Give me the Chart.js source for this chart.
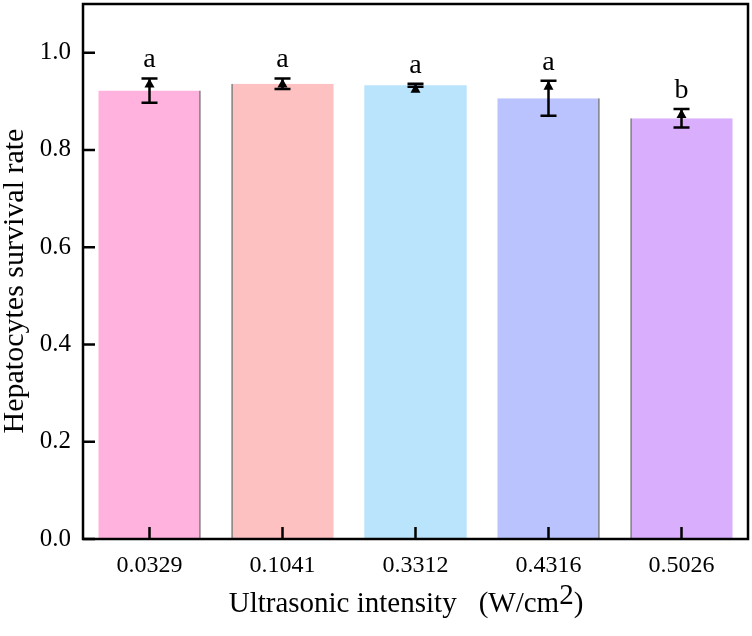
<!DOCTYPE html>
<html>
<head>
<meta charset="utf-8">
<script src="https://cdn.jsdelivr.net/npm/chart.js@4/dist/chart.umd.min.js"></script>
<style>
  html, body { margin: 0; padding: 0; background: #fff; }
  #wrap { width: 752px; height: 636px; }
</style>
</head>
<body>
<div id="wrap"><canvas id="out"></canvas></div>
<script>
// values
const intensities = ["0.0329", "0.1041", "0.3312", "0.4316", "0.5026"];
const survival = [0.922, 0.936, 0.933, 0.906, 0.865];
const survivalSd = [0.025, 0.011, 0.003, 0.036, 0.019];
const groupLetters = ["a", "a", "a", "a", "b"];
const yTicks = [0, 0.2, 0.4, 0.6, 0.8, 1.0];

const barColors = ["#FFB2DD", "#FDC1C1", "#B9E4FC", "#BAC3FD", "#D8AEFD"];
const edgeSides = ["right", "left", "none", "right", "left"];
const serif = "'Liberation Serif', 'Times New Roman', serif";

// frame, inner ticks, error bars, letters and axis titles
const extras = {
  id: "extras",
  afterDatasetsDraw(chart) {
    const ctx = chart.ctx;
    const y = chart.scales.y;
    const meta = chart.getDatasetMeta(0);

    ctx.save();
    ctx.strokeStyle = "#000";
    ctx.fillStyle = "#000";
    ctx.lineWidth = 2.5;
    meta.data.forEach((bar, i) => {
      const cx = bar.x;
      const hi = y.getPixelForValue(survival[i] + survivalSd[i]);
      const lo = y.getPixelForValue(survival[i] - survivalSd[i]);
      ctx.beginPath();
      ctx.moveTo(cx, hi); ctx.lineTo(cx, lo);
      ctx.moveTo(cx - 8, hi); ctx.lineTo(cx + 8, hi);
      ctx.moveTo(cx - 8, lo); ctx.lineTo(cx + 8, lo);
      ctx.stroke();
      ctx.beginPath();
      ctx.moveTo(cx, hi);
      ctx.lineTo(cx - 5, hi + 9);
      ctx.lineTo(cx + 5, hi + 9);
      ctx.closePath();
      ctx.fill();

      ctx.font = "28px " + serif;
      ctx.textAlign = "center";
      ctx.textBaseline = "alphabetic";
      ctx.fillText(groupLetters[i], cx, hi - 11);
    });
    ctx.restore();
  },
  afterDraw(chart) {
    const ctx = chart.ctx;
    const a = chart.chartArea;
    const x = chart.scales.x;
    const y = chart.scales.y;

    ctx.save();
    ctx.strokeStyle = "#000";
    ctx.lineWidth = 2.5;
    ctx.strokeRect(a.left, a.top, a.right - a.left, a.bottom - a.top);
    ctx.beginPath();
    yTicks.forEach(v => {
      const py = y.getPixelForValue(v);
      ctx.moveTo(a.left, py); ctx.lineTo(a.left + 12, py);
    });
    intensities.forEach((c, i) => {
      const px = x.getPixelForValue(i);
      ctx.moveTo(px, a.bottom); ctx.lineTo(px, a.bottom - 12);
    });
    ctx.stroke();

    ctx.fillStyle = "#000";
    ctx.font = "29px " + serif;
    ctx.textBaseline = "alphabetic";
    ctx.textAlign = "left";
    const p1 = "Ultrasonic intensity";
    const p2 = "(W/cm";
    const p3 = "2";
    const p4 = ")";
    const gap = 22;
    const w1 = ctx.measureText(p1).width;
    const w2 = ctx.measureText(p2).width;
    const w3 = ctx.measureText(p3).width;
    const w4 = ctx.measureText(p4).width;
    let tx = 406 - (w1 + gap + w2 + w3 + w4) / 2;
    const base = 612;
    ctx.fillText(p1, tx, base); tx += w1 + gap;
    ctx.fillText(p2, tx, base); tx += w2;
    ctx.fillText(p3, tx, base - 8); tx += w3;
    ctx.fillText(p4, tx, base);

    ctx.font = "30px " + serif;
    ctx.translate(15, 281);
    ctx.rotate(-Math.PI / 2);
    ctx.textAlign = "center";
    ctx.textBaseline = "middle";
    ctx.fillText("Hepatocytes survival rate", 0, 0);
    ctx.restore();
  }
};

const chartConfig = {
  type: "bar",
  data: {
    labels: intensities,
    datasets: [{
      data: survival,
      backgroundColor: barColors,
      borderColor: "#5a5a5a",
      borderSkipped: false,
      borderWidth: c => {
        const side = edgeSides[c.dataIndex];
        return { top: 0, bottom: 0, left: side === "left" ? 1.5 : 0, right: side === "right" ? 1.5 : 0 };
      },
      barPercentage: 0.77,
      categoryPercentage: 1
    }]
  },
  options: {
    responsive: true,
    maintainAspectRatio: false,
    animation: false,
    layout: { padding: { top: 4, right: 4, left: 0, bottom: 0 } },
    plugins: { legend: { display: false }, tooltip: { enabled: false } },
    scales: {
      x: {
        grid: { display: false, drawTicks: false },
        border: { display: false },
        ticks: { color: "#000", font: { family: serif, size: 24 }, padding: 12, maxRotation: 0 },
        afterFit: s => { s.height = 97; s.paddingLeft = 0; s.paddingRight = 0; }
      },
      y: {
        min: 0,
        max: 1.1,
        grid: { display: false, drawTicks: false },
        border: { display: false },
        ticks: {
          stepSize: 0.2,
          color: "#000",
          font: { family: serif, size: 25 },
          padding: 12,
          callback: v => (v > 1.05 ? "" : v.toFixed(1))
        },
        afterFit: s => { s.width = 83; s.paddingTop = 0; s.paddingBottom = 0; }
      }
    }
  },
  plugins: [extras]
};

window.chart = new Chart(document.getElementById("out").getContext("2d"), chartConfig);
</script>
</body>
</html>
